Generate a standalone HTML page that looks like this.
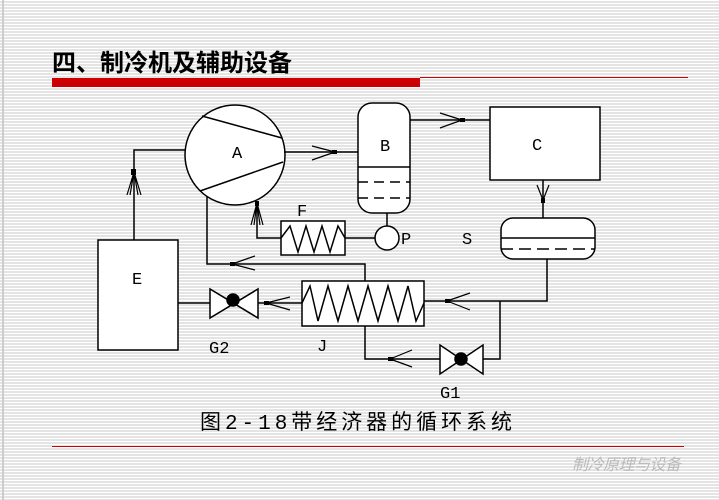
<!DOCTYPE html>
<html><head><meta charset="utf-8"><style>
body{margin:0;width:719px;height:500px;overflow:hidden;background:repeating-linear-gradient(#fff 0,#fff 1px,#e4e4e4 1px,#e4e4e4 3px);font-family:"Liberation Sans","Noto Sans CJK SC",sans-serif;position:relative}
.t{position:absolute;left:52px;top:43px;font-size:24px;font-weight:bold;color:#000}
.wm{position:absolute;left:572px;top:451px;font-size:16px;font-style:italic;color:#bbb;letter-spacing:-0.5px}
</style></head><body>
<div style="position:absolute;left:2px;top:0;width:2px;height:500px;background:#ccc"></div>
<div class="t">四、制冷机及辅助设备</div>
<div style="position:absolute;left:52px;top:78px;width:368px;height:9px;background:#c00"></div>
<div style="position:absolute;left:420px;top:77px;width:268px;height:1px;background:#c00"></div>
<div style="position:absolute;left:52px;top:446px;width:632px;height:1px;background:#c00"></div>
<div class="wm">制冷原理与设备</div>
<svg width="719" height="500" style="position:absolute;left:0;top:0" fill="none" stroke="#000" stroke-width="1.5" font-family="Liberation Mono,monospace" font-size="17">
<g fill="#fff">
<circle cx="235" cy="155" r="50"/>
<rect x="358" y="103" width="52" height="110" rx="14"/>
<rect x="490" y="107" width="110" height="73"/>
<rect x="501" y="218" width="94" height="41" rx="12"/>
<rect x="98" y="240" width="80" height="110"/>
<rect x="281" y="221" width="64" height="34"/>
<rect x="302" y="281" width="122" height="45"/>
<circle cx="387" cy="238" r="12"/>
</g>
<path d="M202 116L282 138M200 191L283 162"/>
<path d="M358 167H410"/><path d="M358 182H410M358 198H410" stroke-dasharray="10 6"/>
<path d="M501 238H595"/><path d="M501 249H595" stroke-dasharray="12 6"/>
<path d="M281 238L290 226L298 252L306 226L314 252L322 226L330 252L338 226L345 238"/>
<path d="M302 303L310 286L318 321L328 286L338 321L348 286L358 321L368 286L378 321L388 286L398 321L408 286L416 321L424 303"/>
<path d="M185 150H134V240M284 152H358M410 120H490M543 180V218M387 213V226M345 238H375M281 238H257V203M207 197V264H365V281M424 301H547V259M500 301V359H483M440 359H365V326M302 303H258M210 303H178"/>
<path d="M210 289V318L258 289V318Z" fill="#fff"/><circle cx="233" cy="300" r="6" fill="#000"/>
<path d="M440 345V374L483 345V374Z" fill="#fff"/><circle cx="461" cy="359" r="6" fill="#000"/>
<g stroke-width="1.2">
<path d="M134 172L127 195M134 172L130 195M134 172L138 195M134 172L141 195"/>
<path d="M335 152L312 146M335 152L312 160"/>
<path d="M462 120L440 113M462 120L440 128"/>
<path d="M543 200L537 185M543 200L549 185"/>
<path d="M257 203L251 225M257 203L254 225M257 203L260 225M257 203L263 225"/>
<path d="M232 264L255 256M232 264L255 270"/>
<path d="M447 301L470 293M447 301L470 310"/>
<path d="M390 359L412 350M390 359L412 367"/>
<path d="M266 303L290 297M266 303L290 310"/>
</g>
<g fill="#000" stroke="none"><rect x="131" y="169" width="5" height="6"/><rect x="332" y="150" width="5" height="4"/><rect x="460" y="118" width="5" height="4"/><rect x="541" y="198" width="4" height="5"/><rect x="255" y="201" width="4" height="5"/><rect x="230" y="262" width="5" height="4"/><rect x="445" y="299" width="5" height="4"/><rect x="388" y="357" width="5" height="4"/><rect x="264" y="301" width="5" height="4"/></g>
<g fill="#000" stroke="none">
<text x="232" y="158">A</text><text x="380" y="151">B</text><text x="532" y="150">C</text><text x="132" y="284">E</text><text x="297" y="216">F</text><text x="401" y="244">P</text><text x="462" y="244">S</text><text x="317" y="351">J</text><text x="209" y="353">G2</text><text x="440" y="398">G1</text>
<text x="200" y="429" font-family="Liberation Mono,Noto Sans CJK SC,monospace" font-size="21" textLength="312" lengthAdjust="spacing">图2-18带经济器的循环系统</text>
</g>
</svg>
</body></html>
